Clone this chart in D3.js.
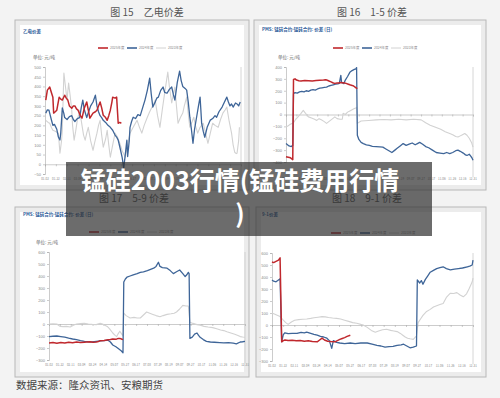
<!DOCTYPE html>
<html>
<head>
<meta charset="utf-8">
<script src="https://cdn.jsdelivr.net/npm/d3@7"></script>
<style>
  html, body { margin: 0; padding: 0; background: #f3f3f3; }
  svg { display: block; font-family: "Noto Sans CJK SC", "Noto Sans", sans-serif; }
</style>
</head>
<body>
<svg id="page"></svg>
<script>
const width = 500;
const height = 398;

// DATA (day index 0..249 of the year, value in 元/吨)
const legendNames = ['2025年度', '2024年度', '2023年度'];
const xLabels = ['01-02', '01-22', '02-11', '03-04', '03-24', '04-14', '05-07', '05-27', '06-17', '07-08',
                 '07-29', '08-19', '09-07', '09-27', '10-17', '11-06', '11-26', '12-16', '12-31'];
const captions = ['图 15　乙电价差', '图 16　1-5 价差', '图 17　5-9 价差', '图 18　9-1 价差'];
const chartTitles = ['乙电价差', 'PMS: 锰硅合约-锰硅合约: 价差 (日)', 'PMS: 锰硅合约-锰硅合约: 价差 (日)', '9-1价差'];
const sourceText = '数据来源：隆众资讯、安粮期货';
const overlayLines = ['锰硅2003行情(锰硅费用行情', ')'];

// 乙电价差
const c1Red = [[1,330],[3,381],[6,397],[8,370],[10,345],[11,263],[13,270],[15,278],[18,345],[20,335],[22,330],[25,355],
  [27,340],[29,330],[31,300],[34,288],[36,300],[38,300],[40,285],[42,278],[45,250],[47,237],[50,290],[53,320],[55,280],
  [57,237],[59,250],[61,263],[64,270],[66,278],[68,300],[70,320],[72,290],[74,252],[77,240],[79,226],[81,250],[83,278],
  [85,320],[86,345],[89,340],[91,345],[93,211],[95,215],[97,211]];
const c1Blue = [[1,263],[3,280],[5,278],[8,230],[10,200],[12,205],[15,180],[17,140],[19,125],[20,160],[22,290],[24,260],
  [25,240],[28,230],[31,245],[34,250],[36,230],[38,220],[41,235],[44,240],[46,290],[48,330],[50,280],[53,240],[55,265],
  [58,300],[61,320],[64,355],[66,300],[68,270],[70,250],[72,240],[74,226],[77,215],[80,200],[83,190],[86,175],[89,150],
  [91,140],[93,124],[95,90],[98,36],[100,-20],[102,50],[104,124],[105,40],[107,120],[108,190],[110,220],[112,242],
  [115,235],[118,255],[121,250],[124,290],[127,330],[130,380],[133,443],[135,360],[137,294],[140,320],[142,340],
  [144,345],[147,380],[150,397],[152,370],[155,365],[158,385],[161,397],[163,360],[165,330],[168,420],[171,479],
  [173,430],[175,400],[178,390],[180,381],[182,320],[184,242],[186,180],[188,108],[190,180],[193,252],[195,300],
  [197,345],[198,280],[199,211],[201,170],[203,139],[206,190],[210,227],[213,235],[216,250],[218,242],[221,270],
  [225,294],[228,320],[231,345],[233,320],[235,300],[237,310],[239,294],[242,315],[244,310],[246,300],[248,320]];
const c1Gray = [[1,226],[4,215],[6,211],[8,190],[10,175],[13,170],[17,160],[19,57],[21,120],[22,175],[23,330],[24,469],
  [26,400],[28,330],[30,417],[32,350],[34,278],[35,200],[37,124],[39,170],[41,226],[43,260],[44,278],[47,200],
  [49,150],[51,124],[53,160],[55,190],[58,120],[61,72],[63,110],[66,160],[68,200],[70,226],[72,150],[74,88],
  [77,130],[79,175],[81,100],[83,36],[86,100],[89,160],[92,140],[95,108],[98,70],[102,36],[105,100],[108,160],
  [112,190],[117,226],[120,190],[123,160],[126,200],[130,242],[133,270],[136,294],[138,310],[140,330],[143,250],
  [146,190],[149,280],[152,366],[154,420],[156,474],[158,400],[161,315],[163,360],[165,397],[167,300],[169,211],
  [172,240],[175,263],[177,300],[180,345],[182,260],[184,190],[187,220],[189,242],[191,200],[194,160],[197,190],
  [201,211],[204,160],[207,108],[210,160],[213,211],[216,200],[220,190],[223,230],[226,263],[229,280],[231,294],
  [234,220],[237,160],[239,100],[241,62],[243,55],[244,57],[246,120],[247,190]];

// 1-5 价差
const c2Red = [[0,-355],[3,-360],[6,-365],[9,-380],[10,295],[12,300],[14,290],[17,285],[20,282],[25,286],[30,285],
  [35,283],[40,286],[45,288],[50,290],[53,292],[55,288],[58,280],[60,275],[63,265],[65,262],[68,266],[70,265],
  [73,270],[75,268],[78,265],[80,262],[83,255],[85,250],[88,245],[90,240],[92,230],[93,225],[95,218]];
const c2Blue = [[0,-245],[2,-255],[4,-265],[7,-270],[9,-260],[10,175],[12,185],[15,180],[18,190],[21,195],[24,190],
  [27,200],[30,195],[33,205],[36,210],[39,205],[42,215],[45,222],[48,225],[51,228],[54,230],[57,240],[60,245],
  [63,250],[66,255],[69,258],[71,262],[73,330],[74,270],[77,260],[79,290],[82,320],[85,355],[88,370],[91,380],
  [93,385],[94,395],[95,-175],[97,-210],[100,-235],[103,-245],[107,-255],[111,-260],[115,-268],[120,-270],
  [125,-272],[129,-275],[133,-290],[137,-305],[141,-320],[145,-300],[148,-285],[152,-265],[156,-245],[160,-260],
  [164,-250],[168,-240],[172,-255],[175,-245],[178,-235],[182,-250],[186,-270],[190,-280],[195,-300],[200,-320],
  [205,-325],[210,-330],[214,-320],[218,-330],[222,-320],[226,-305],[229,-300],[232,-310],[236,-325],[239,-340],
  [241,-345],[244,-335],[246,-350],[248,-370],[249,-385]];
const c2Gray = [[0,-105],[3,-95],[5,-85],[8,-75],[10,-70],[13,-40],[16,-20],[20,10],[23,35],[26,10],[30,-20],
  [34,-30],[38,-40],[41,-50],[44,-35],[47,-45],[51,-60],[54,-75],[57,-60],[60,-45],[63,-30],[65,-20],[68,-35],
  [72,-40],[75,-40],[76,10],[79,0],[82,20],[85,30],[88,40],[91,50],[93,55],[94,60],[95,-75],[100,-55],[110,-50],
  [120,-45],[130,-42],[140,-45],[150,-40],[160,-45],[170,-40],[180,-45],[186,-70],[192,-90],[200,-110],[206,-125],
  [212,-145],[218,-160],[222,-170],[226,-185],[229,-190],[232,-180],[235,-170],[238,-160],[241,-175],[244,-200],
  [247,-235],[249,-275]];

// 5-9 价差
const c3Red = [[0,-158],[5,-155],[10,-160],[15,-155],[20,-158],[25,-152],[30,-156],[35,-150],[40,-155],[45,-152],
  [48,-150],[52,-148],[56,-152],[60,-150],[63,-145],[65,-140],[70,-138],[75,-132],[78,-130],[81,-125],[85,-128],
  [88,-120],[90,-120],[92,-125],[94,-130]];
const c3Blue = [[0,-105],[5,-102],[10,-100],[15,-105],[20,-110],[25,-118],[30,-125],[35,-130],[40,-138],[45,-145],
  [50,-148],[55,-150],[60,-145],[65,-140],[70,-138],[75,-135],[78,-150],[81,-175],[85,-190],[88,-205],[90,-215],
  [92,-225],[94,-240],[95,350],[97,375],[99,390],[103,400],[107,410],[112,420],[116,430],[120,435],[125,445],
  [129,455],[133,465],[136,480],[139,515],[141,480],[144,470],[147,468],[150,465],[154,445],[158,420],[162,435],
  [166,450],[170,420],[173,395],[175,410],[177,430],[178,420],[179,-120],[182,-110],[185,-85],[188,-75],[190,-95],
  [192,-110],[196,-130],[200,-145],[205,-150],[210,-152],[217,-155],[222,-158],[228,-155],[234,-160],[238,-165],
  [243,-150],[246,-148],[249,-145]];
const c3Gray = [[0,0],[5,2],[10,0],[12,-10],[14,-20],[18,-22],[22,-20],[27,-25],[31,-10],[35,0],[40,3],[45,5],
  [50,0],[55,-3],[60,-5],[65,5],[68,0],[71,-10],[74,-20],[77,-40],[81,-75],[84,-95],[86,-105],[88,-80],[90,-60],
  [92,-80],[94,-100],[95,90],[98,70],[103,50],[108,55],[112,50],[116,50],[120,75],[124,100],[128,90],[132,80],
  [136,70],[141,60],[145,70],[150,80],[155,85],[159,90],[162,100],[166,125],[170,155],[174,150],[177,150],[179,15],
  [183,5],[188,-5],[192,-10],[197,-20],[202,-25],[208,-30],[213,-40],[218,-50],[222,-55],[226,-65],[231,-75],
  [236,-85],[240,-95],[243,-105],[246,-108],[249,-110]];

// 9-1 价差
const c4Red = [[0,525],[2,520],[5,530],[8,540],[10,560],[12,-140],[14,-130],[16,-125],[20,-130],[25,-128],[30,-132],
  [35,-130],[40,-135],[45,-132],[50,-138],[56,-140],[59,-125],[62,-110],[65,-125],[69,-135],[73,-138],[78,-140],
  [81,-130],[84,-120],[87,-112],[90,-105],[93,-95],[97,-85]];
const c4Blue = [[0,375],[2,365],[5,360],[8,375],[10,385],[12,-140],[14,-80],[16,-65],[20,-72],[25,-70],[31,-70],
  [36,-62],[40,-66],[43,-60],[48,-70],[52,-78],[56,-85],[60,-95],[64,-100],[68,-110],[71,-130],[74,-195],[76,-130],
  [80,-145],[84,-150],[90,-155],[97,-150],[103,-155],[110,-150],[118,-150],[124,-160],[130,-170],[135,-175],
  [140,-185],[145,-180],[150,-178],[155,-170],[160,-165],[163,-160],[167,-175],[171,-190],[175,-185],[179,-175],
  [180,375],[183,350],[185,370],[187,340],[190,380],[193,410],[196,440],[200,455],[204,470],[208,478],[212,485],
  [216,470],[221,460],[226,465],[231,470],[236,475],[242,485],[245,490],[248,500],[249,540]];
const c4Gray = [[0,100],[5,85],[10,70],[14,40],[17,20],[20,5],[24,25],[28,40],[33,45],[38,48],[43,50],[48,55],
  [52,60],[57,65],[62,70],[66,68],[70,62],[75,58],[80,55],[85,50],[90,40],[95,30],[100,20],[105,15],[110,5],
  [113,0],[118,-20],[123,-45],[128,-60],[132,-50],[137,-40],[142,-35],[147,-45],[151,-50],[155,-55],[159,-70],
  [162,-85],[165,-100],[168,-110],[171,-115],[175,-120],[179,-90],[181,20],[184,50],[187,80],[191,110],[196,130],
  [200,150],[204,160],[208,170],[212,180],[216,230],[221,265],[225,262],[229,270],[233,250],[237,235],[241,260],
  [244,300],[246,330],[248,360],[249,390]];

// COLORS
const colors = ['#c0282d', '#3e6598', '#d2d2d2'];
const widths = [1.5, 1.3, 1.1];

const svg = d3.select('#page')
  .attr('width', width)
  .attr('height', height);

svg.append('rect')
  .attr('width', width)
  .attr('height', height)
  .attr('fill', '#f3f3f3');

// PANELS
const panels = [
  { frame: [15, 20, 234, 170], cap: [147, 16], title: [23, 33], unit: [33, 59], legend: [140, 48],
    x: [45, 241], y: [174, 67], yDomain: [-50, 500], yStep: 50, xLabelY: 180, series: [c1Red, c1Blue, c1Gray] },
  { frame: [254, 20, 232, 170], cap: [372, 16], title: [262, 31], unit: [278, 59], legend: [375, 48],
    x: [286, 473], y: [162, 67], yDomain: [-400, 400], yStep: 100, xLabelY: 180, series: [c2Red, c2Blue, c2Gray] },
  { frame: [15, 207, 234, 170], cap: [134, 202], title: [23, 216], unit: [36, 244], legend: [131, 232],
    x: [49, 245], y: [360, 252], yDomain: [-300, 600], yStep: 100, xLabelY: 366, series: [c3Red, c3Blue, c3Gray] },
  { frame: [256, 207, 230, 170], cap: [367, 202], title: [262, 216], unit: null, legend: [373, 233],
    x: [272, 473], y: [361, 253], yDomain: [-300, 600], yStep: 100, xLabelY: 367, series: [c4Red, c4Blue, c4Gray] }
];

panels.forEach((p, i) => {
  const g = svg.append('g');
  const [fx, fy, fw, fh] = p.frame;

  // frame
  g.append('rect')
    .attr('x', fx).attr('y', fy).attr('width', fw).attr('height', fh)
    .attr('fill', '#ececec').attr('stroke', '#b8b8b8').attr('stroke-width', 1);
  g.append('rect')
    .attr('x', fx + 5).attr('y', fy + 5).attr('width', fw - 10).attr('height', fh - 10)
    .attr('fill', '#fff');

  // caption
  svg.append('text')
    .attr('x', p.cap[0]).attr('y', p.cap[1])
    .attr('text-anchor', 'middle')
    .style('font-size', '10px')
    .attr('fill', '#555')
    .text(captions[i]);

  // chart title
  g.append('text')
    .attr('x', p.title[0]).attr('y', p.title[1])
    .style('font-size', '4.5px')
    .style('font-weight', 'bold')
    .attr('fill', '#2e5d9a')
    .text(chartTitles[i]);

  if (p.unit) {
    g.append('text')
      .attr('x', p.unit[0]).attr('y', p.unit[1])
      .style('font-size', '4.5px')
      .attr('fill', '#666')
      .text('单位: 元/吨');
  }

  // SCALES
  const xScale = d3.scaleLinear().domain([0, 249]).range(p.x);
  const yScale = d3.scaleLinear().domain(p.yDomain).range(p.y);
  const xLab = d3.scalePoint().domain(xLabels).range(p.x);

  // y axis
  const yAxis = d3.axisLeft(yScale)
    .tickValues(d3.range(p.yDomain[0], p.yDomain[1] + 1, p.yStep))
    .tickSize(2)
    .tickPadding(2);
  const ya = g.append('g')
    .attr('transform', `translate(${p.x[0]},0)`)
    .call(yAxis);
  ya.selectAll('text').style('font-size', '4px').attr('fill', '#888');
  ya.selectAll('line, path').attr('stroke', '#aaa').attr('stroke-width', 0.6);

  // zero line with ticks
  const xAxis = d3.axisBottom(xLab).tickSize(2).tickFormat('');
  const xa = g.append('g')
    .attr('transform', `translate(0,${yScale(0)})`)
    .call(xAxis);
  xa.selectAll('line, path').attr('stroke', '#aaa').attr('stroke-width', 0.6);

  // bottom date labels
  g.selectAll('.xl')
    .data(xLabels)
    .enter()
    .append('text')
      .attr('x', d => xLab(d))
      .attr('y', p.xLabelY)
      .attr('text-anchor', 'middle')
      .style('font-size', '3px')
      .attr('fill', '#888')
      .text(d => d);

  // right edge line
  g.append('line')
    .attr('x1', p.x[1]).attr('x2', p.x[1])
    .attr('y1', p.y[1]).attr('y2', p.xLabelY - 3)
    .attr('stroke', '#ccc').attr('stroke-width', 0.8);

  // LINES (gray first, red on top)
  const line = d3.line()
    .x(d => xScale(d[0]))
    .y(d => yScale(d[1]));
  [2, 1, 0].forEach(k => {
    g.append('path')
      .datum(p.series[k])
      .attr('d', line)
      .attr('fill', 'none')
      .attr('stroke', colors[k])
      .attr('stroke-width', widths[k])
      .attr('stroke-linejoin', 'round');
  });

  // LEGEND
  const lg = g.append('g').attr('transform', `translate(${p.legend[0] - 42},${p.legend[1]})`);
  legendNames.forEach((name, k) => {
    const ox = k * 29;
    lg.append('line')
      .attr('x1', ox).attr('x2', ox + 10)
      .attr('y1', 0).attr('y2', 0)
      .attr('stroke', colors[k]).attr('stroke-width', k === 2 ? 1 : 1.6);
    lg.append('text')
      .attr('x', ox + 12).attr('y', 1.2)
      .style('font-size', '3.4px')
      .attr('fill', '#888')
      .text(name);
  });
});

// SOURCE
svg.append('text')
  .attr('x', 16).attr('y', 389)
  .style('font-size', '10.5px')
  .attr('fill', '#444')
  .text(sourceText);

// OVERLAY TITLE
svg.append('rect')
  .attr('x', 66).attr('y', 162)
  .attr('width', 366).attr('height', 74)
  .attr('fill', 'rgb(45,45,45)')
  .attr('fill-opacity', 0.7);

svg.selectAll('.ov')
  .data(overlayLines)
  .enter()
  .append('text')
    .attr('x', 240)
    .attr('y', (d, i) => 190 + i * 33)
    .attr('text-anchor', 'middle')
    .style('font-size', '25px')
    .style('font-weight', 'bold')
    .attr('fill', '#fff')
    .text(d => d);
</script>
</body>
</html>
